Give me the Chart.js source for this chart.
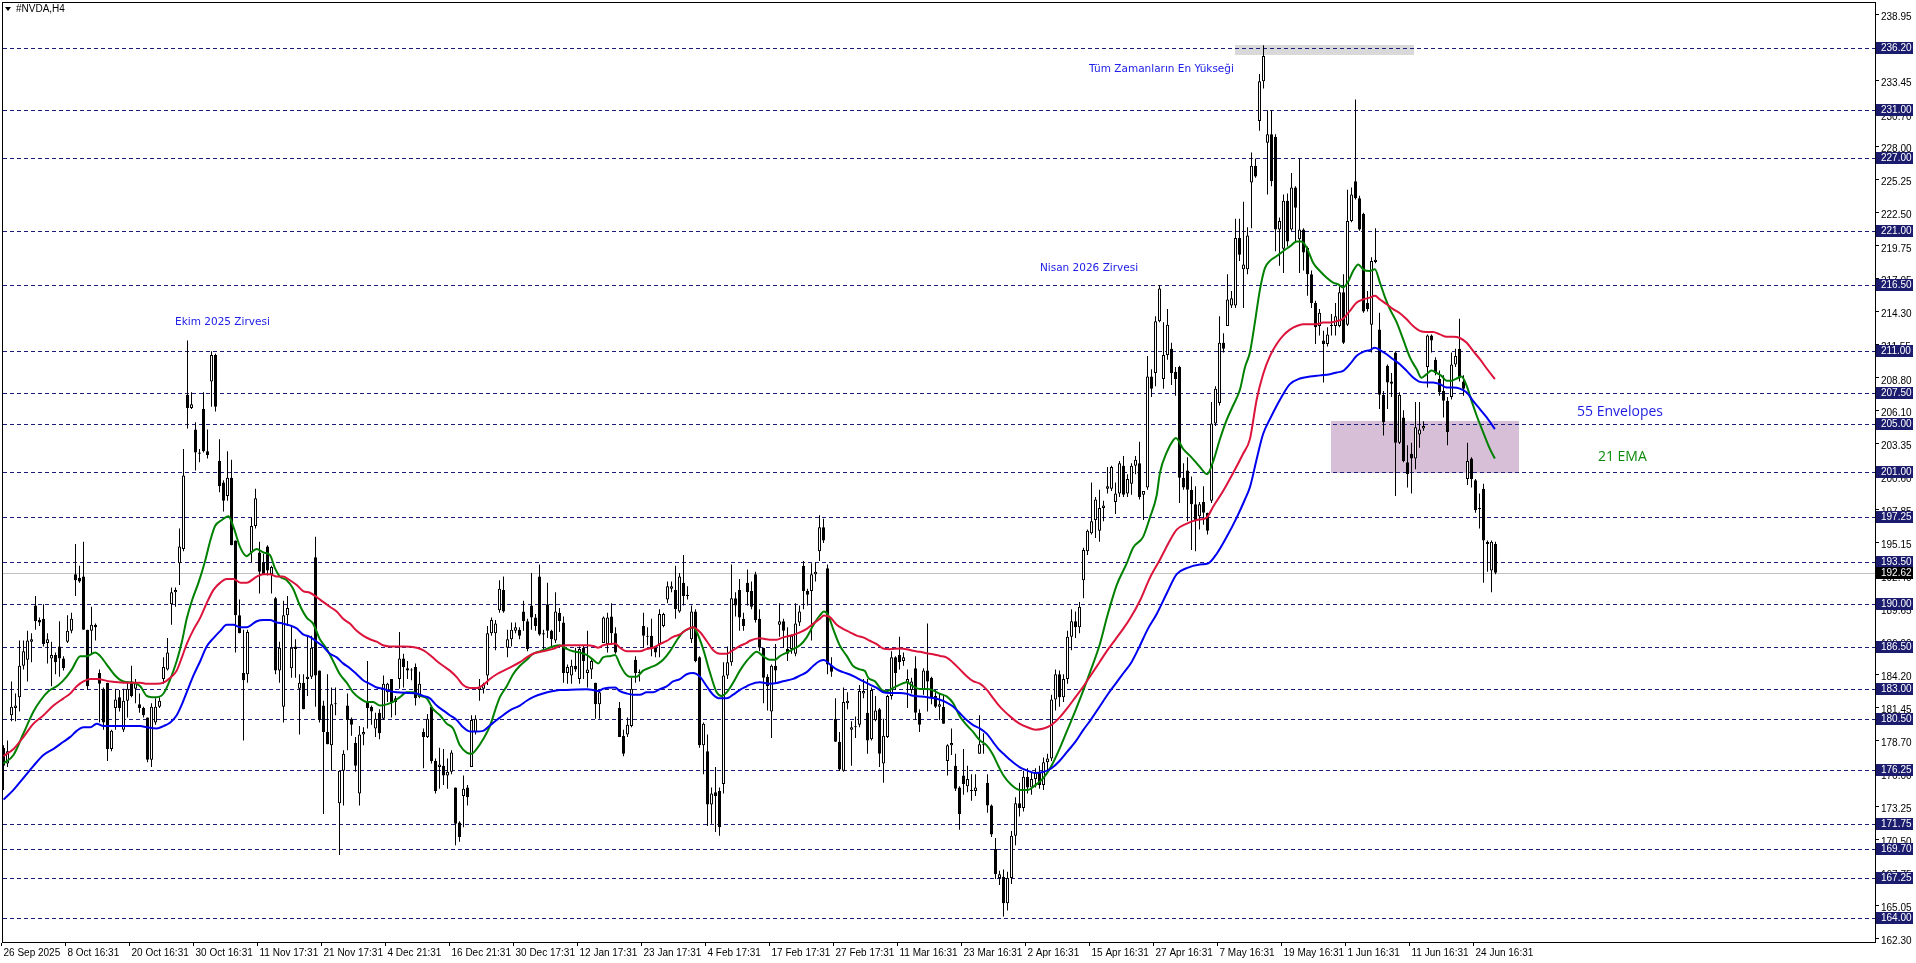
<!DOCTYPE html>
<html><head><meta charset="utf-8">
<script src="https://cdn.jsdelivr.net/npm/chart.js@4.4.1/dist/chart.umd.min.js"></script>
<style>html,body{margin:0;padding:0;background:#fff;overflow:hidden}#wrap{width:1916px;height:963px}</style>
</head><body><div id="wrap"><canvas id="c" width="1916" height="963"></canvas></div>
<script>
// ---- candles (H4 bars, index 0 = 26 Sep 2025) ----
const openP = [
178.1,176.8,180.8,181.4,182.3,184.9,185.4,186.9,189.9,188.7,
188.8,186.8,185.5,185.8,186.5,185.5,186.9,187.8,192.5,192.2,
192.3,187.9,187.8,188.3,184.3,183.0,183.5,178.0,181.4,182.3,
179.6,182.0,183.6,183.0,181.7,181.4,180.6,177.1,180.2,181.5,
183.8,184.6,190.0,191.0,193.4,194.6,207.4,206.3,204.5,202.6,
206.2,202.7,208.5,210.7,201.9,200.1,199.0,200.5,195.3,189.1,
184.3,184.2,194.3,196.5,194.3,193.5,194.8,192.5,190.5,184.5,
181.5,189.1,184.7,186.5,183.0,183.5,183.8,184.0,193.9,184.5,
181.6,179.4,178.3,181.7,173.5,176.2,181.6,180.5,178.5,174.3,
179.2,181.9,181.5,179.7,181.0,180.5,182.7,183.8,182.2,183.8,
185.5,184.7,184.6,184.8,182.3,179.4,179.0,181.5,177.0,176.5,
176.6,175.8,176.1,174.8,171.9,174.1,174.8,176.5,179.4,182.9,
183.0,184.1,187.6,187.6,189.5,191.2,186.4,187.1,187.8,187.9,
189.4,188.6,189.9,188.9,192.3,187.5,190.0,187.8,187.0,189.3,
188.5,184.3,184.1,184.9,183.8,186.4,184.3,184.6,183.5,181.7,
186.8,186.7,189.0,187.6,181.4,179.1,179.2,179.9,185.4,184.3,
188.2,187.3,187.4,186.4,186.7,188.2,190.4,191.3,191.2,189.4,
191.8,190.8,187.1,189.4,185.6,178.3,177.8,173.4,174.4,174.5,
175.1,184.1,185.2,190.5,191.2,188.8,191.8,191.1,192.5,188.8,
186.4,184.0,181.1,184.9,188.3,188.6,186.3,186.3,185.9,188.5,
193.2,191.1,191.1,192.5,194.4,196.4,193.0,184.9,180.5,178.6,
176.2,181.8,179.6,179.8,180.0,182.6,181.0,178.8,180.4,181.3,
176.8,179.0,182.4,185.6,185.8,185.3,183.5,182.9,184.7,181.0,
182.9,184.5,183.9,182.4,181.5,181.5,177.0,178.3,176.6,174.8,
175.8,174.9,174.5,174.5,177.6,178.3,175.2,173.3,169.7,167.3,
167.4,165.2,167.3,170.8,173.5,173.1,175.7,174.8,175.5,176.0,
175.0,176.9,177.2,182.1,184.2,182.3,183.8,187.3,188.6,188.1,
192.0,194.4,195.9,197.0,196.1,198.0,199.6,199.6,198.5,199.2,
201.5,199.2,200.0,201.5,201.7,199.1,199.7,208.9,209.2,213.5,
208.7,210.7,211.2,209.3,209.7,200.5,201.1,199.5,198.3,197.3,
198.5,197.6,198.6,205.0,206.7,211.7,213.1,214.8,214.8,220.4,
217.8,217.8,225.0,226.4,230.1,233.4,228.3,229.0,228.8,221.1,
219.5,223.5,221.1,224.6,220.3,221.1,219.6,217.4,215.0,213.1,
211.9,211.6,213.1,213.1,213.1,215.9,213.2,221.8,225.1,223.7,
222.4,215.0,213.2,218.4,212.8,207.4,209.8,208.5,210.9,203.4,
205.5,201.8,202.5,202.1,204.1,204.6,209.7,212.3,210.3,208.7,
207.7,206.9,207.2,209.9,211.2,208.5,200.4,202.1,200.3,197.9,
199.6,195.2,192.8,195.0];
const highP = [
178.3,178.7,183.6,182.6,187.0,187.0,187.8,187.6,190.7,188.9,
190.0,187.6,186.9,186.0,188.6,185.7,189.1,189.3,195.0,193.2,
195.2,187.9,189.8,188.4,184.6,183.1,183.5,179.6,183.0,182.9,
183.0,183.6,184.9,183.8,182.6,181.5,180.6,181.8,182.2,182.3,
185.6,187.2,191.4,191.4,196.3,202.9,211.9,207.6,205.1,202.9,
207.6,204.5,211.0,210.8,203.7,200.3,202.7,202.0,195.3,190.4,
187.9,187.9,197.2,199.6,195.2,194.2,194.9,193.2,190.6,186.9,
190.3,190.7,188.2,187.1,184.2,184.2,187.4,187.4,195.6,184.5,
182.0,184.2,183.1,183.1,176.2,177.9,182.6,180.6,179.0,179.9,
179.8,185.3,181.6,181.0,181.3,184.1,183.5,183.8,182.4,187.7,
185.9,185.3,184.7,185.1,184.4,179.7,180.9,181.6,177.2,178.1,
178.0,177.2,177.9,174.8,172.0,175.8,175.0,180.8,180.8,183.8,
183.5,188.2,188.9,188.7,192.0,192.3,187.9,188.5,188.5,188.1,
190.3,188.8,192.6,189.2,193.3,187.9,191.8,187.9,191.0,189.7,
189.0,185.0,185.4,186.4,186.5,186.6,187.8,185.5,183.5,182.8,
189.0,189.3,190.1,188.1,181.9,179.6,180.6,183.9,185.7,184.6,
189.3,188.1,188.8,186.5,189.6,189.3,191.9,191.9,193.2,192.6,
194.1,191.5,189.9,189.6,185.7,180.2,179.2,174.8,176.5,174.8,
185.2,186.5,193.3,191.0,192.1,189.3,192.9,191.9,192.7,189.6,
186.4,184.2,185.0,186.7,190.1,188.8,188.1,187.5,190.1,189.9,
193.6,191.3,193.4,193.5,197.4,197.1,193.3,185.6,182.2,179.4,
183.1,182.7,180.3,180.7,183.3,183.8,183.8,183.1,182.4,181.4,
180.5,182.5,186.1,185.7,187.3,186.0,184.6,183.9,185.7,181.3,
184.7,188.4,184.0,182.9,182.6,182.5,178.4,179.7,177.6,174.9,
178.0,176.6,175.9,175.9,180.8,179.3,175.9,173.4,170.6,167.9,
168.0,167.8,171.2,174.0,175.2,176.2,176.4,176.0,176.4,176.6,
177.3,177.6,182.5,184.6,184.5,184.2,187.8,189.6,189.4,190.2,
194.7,196.2,200.1,198.9,199.5,198.6,201.4,201.5,200.1,201.9,
202.3,200.8,201.7,202.3,203.5,199.4,210.6,209.5,213.9,216.5,
213.4,214.5,211.7,209.7,209.8,201.7,202.2,200.6,199.8,198.5,
199.8,197.6,206.8,208.1,213.9,212.5,217.4,216.0,222.0,222.0,
223.4,221.3,227.5,227.0,234.0,236.4,231.0,231.0,229.0,222.1,
224.0,224.1,225.8,224.7,227.0,221.2,219.7,217.7,215.2,214.5,
212.7,213.0,214.1,215.0,216.4,217.4,224.4,224.6,231.9,223.9,
222.5,216.0,218.8,221.2,214.2,207.7,209.9,209.2,211.0,207.6,
206.1,203.2,203.4,206.8,206.8,205.2,212.4,212.4,210.5,209.4,
209.0,207.2,210.9,211.2,213.7,209.0,203.4,202.2,200.4,199.2,
200.0,195.3,195.3,195.2];
const lowP = [
174.6,176.5,180.3,180.3,181.1,184.6,183.6,185.2,187.9,188.2,
186.5,185.1,183.2,184.2,184.0,184.5,186.8,187.6,190.7,191.8,
187.9,182.9,185.8,187.0,180.2,179.6,177.0,177.8,179.6,181.1,
179.4,180.6,182.3,181.8,181.0,180.6,176.9,176.5,180.0,181.4,
183.4,184.5,188.3,189.8,191.6,194.4,204.6,206.2,201.1,201.8,
202.6,202.1,206.4,206.0,199.3,197.7,198.6,194.9,186.0,187.6,
178.7,183.5,193.5,196.3,190.9,192.5,192.4,190.9,184.2,183.5,
180.2,188.2,183.9,183.9,179.2,181.3,182.4,183.8,181.5,180.2,
172.6,178.4,176.2,180.8,169.2,173.3,177.9,179.1,176.1,173.3,
178.3,179.7,180.0,179.0,178.8,180.4,181.9,180.6,180.8,183.0,
183.1,183.8,183.7,181.6,182.2,176.4,178.9,176.8,174.3,174.7,
175.0,174.7,175.9,170.0,170.3,171.5,173.3,176.5,179.2,182.0,
182.6,183.3,187.4,186.2,189.3,189.3,185.6,186.5,187.6,187.1,
187.8,186.1,187.9,187.8,187.4,186.1,187.2,186.5,186.8,187.7,
183.5,183.4,183.4,184.4,183.4,183.8,183.1,183.8,180.5,180.5,
186.8,186.0,186.8,185.9,179.0,177.4,179.0,179.8,183.5,183.6,
186.4,186.6,185.7,185.6,185.6,188.1,190.1,191.0,188.8,189.3,
189.9,190.4,186.8,185.2,178.1,175.9,171.6,171.8,171.1,170.8,
174.3,183.8,184.9,189.0,187.8,187.8,189.9,189.6,188.5,186.1,
181.8,181.2,178.9,183.5,187.3,186.4,185.3,185.9,185.7,188.2,
189.6,189.9,187.0,191.9,193.6,195.1,184.2,184.0,178.6,176.2,
176.1,181.3,176.6,178.9,179.8,182.2,177.6,178.7,180.3,176.5,
175.2,178.9,182.1,182.9,184.6,184.9,181.4,182.6,180.4,179.4,
182.5,181.1,181.7,181.4,180.4,180.1,175.8,177.5,174.5,171.3,
174.2,174.4,173.7,174.1,177.6,177.6,172.7,170.7,167.2,166.7,
164.1,164.6,166.8,170.0,172.4,172.8,174.3,174.2,174.8,174.7,
174.6,176.1,177.0,181.2,181.5,181.9,183.4,186.2,187.2,187.6,
190.5,194.1,195.8,195.5,195.2,196.9,199.2,199.4,197.5,198.9,
198.9,198.9,199.1,200.8,198.7,197.0,199.5,207.2,208.1,213.4,
207.9,210.3,208.2,207.3,198.4,199.5,196.9,194.5,194.4,196.2,
196.6,195.8,198.4,204.8,206.5,210.9,213.1,214.6,214.6,218.5,
214.6,217.4,221.2,225.4,229.3,232.8,224.0,224.7,219.3,218.1,
217.5,219.7,221.0,220.1,217.5,217.7,215.6,214.6,211.6,212.3,
208.4,211.4,212.3,212.3,213.0,211.6,213.1,221.7,223.6,221.0,
214.2,214.3,210.9,218.3,206.2,204.0,206.2,207.2,199.0,203.3,
201.8,199.7,199.2,201.2,203.0,204.4,208.0,210.9,209.0,207.3,
205.5,203.2,207.0,209.7,208.5,207.3,199.9,199.7,197.6,196.3,
191.8,192.7,191.0,192.5];
const closeP = [
176.6,177.8,181.5,181.6,184.9,186.1,187.0,187.1,188.6,188.5,
186.7,187.1,185.8,185.2,185.5,184.7,187.8,188.8,192.0,191.9,
187.9,183.2,188.3,188.1,183.4,180.2,178.0,179.5,182.1,181.4,
182.0,183.0,182.4,183.5,181.4,180.8,177.1,181.5,181.5,182.0,
184.8,186.0,191.0,191.2,194.8,200.7,206.3,206.6,202.6,202.5,
202.7,202.4,210.7,206.4,199.8,198.6,200.5,194.9,189.1,187.6,
183.7,187.7,196.5,198.8,192.7,192.5,192.8,193.1,184.5,186.4,
189.1,189.7,186.4,186.3,183.5,181.3,184.0,186.4,184.1,180.4,
179.4,178.4,181.7,181.8,176.2,177.6,180.4,180.0,176.6,179.2,
179.4,181.4,181.1,180.5,179.3,183.4,183.4,181.9,181.9,185.5,
184.8,184.5,184.5,182.2,183.4,179.0,180.5,177.0,174.5,176.7,
175.8,176.1,177.7,171.8,170.7,174.7,174.0,180.4,180.5,183.1,
183.4,187.6,188.7,188.4,191.3,189.4,187.1,187.9,188.1,187.4,
188.6,186.3,188.9,188.2,187.5,187.6,187.8,187.1,189.4,188.6,
184.3,184.8,184.9,184.6,186.3,185.3,184.6,185.3,181.7,182.7,
188.9,188.9,187.6,186.0,179.0,177.6,180.0,183.0,184.3,184.4,
187.4,187.4,186.4,186.0,189.2,189.2,191.5,191.5,189.6,192.3,
190.7,190.7,189.4,185.3,178.3,180.1,173.4,174.3,174.1,171.5,
184.1,185.2,190.5,189.9,188.9,188.2,191.0,189.8,188.7,186.4,
183.9,183.2,184.9,184.5,188.6,187.8,185.9,187.4,188.4,189.4,
191.1,190.8,192.5,192.7,196.4,195.3,185.0,184.4,178.6,176.3,
181.9,182.0,179.8,179.8,182.8,182.8,178.7,182.9,181.2,177.6,
179.1,182.4,185.6,184.3,185.2,185.6,183.8,183.6,181.0,180.0,
184.5,183.6,182.2,181.5,181.7,180.1,178.3,178.5,174.7,172.6,
175.1,175.5,174.6,174.8,178.4,178.4,173.3,170.9,167.6,167.6,
165.2,167.3,170.8,173.5,173.1,175.7,174.8,175.5,176.0,175.0,
176.9,177.2,182.1,184.2,182.3,183.8,187.3,188.6,188.1,189.8,
194.5,196.1,196.9,198.7,198.0,198.2,199.8,201.4,199.2,201.7,
199.1,200.4,201.5,202.0,198.9,199.4,208.9,207.9,213.5,216.2,
210.7,213.2,209.2,208.7,200.5,199.7,199.5,198.3,196.9,198.3,
197.6,196.1,205.0,207.9,211.7,211.2,215.3,215.4,220.4,219.0,
218.2,220.6,226.4,225.5,233.4,235.5,229.0,225.1,221.1,221.8,
223.5,220.1,224.6,222.9,221.1,219.2,217.4,215.0,213.0,214.2,
211.6,212.4,213.2,213.9,215.9,211.7,221.8,224.0,223.7,221.1,
214.3,214.5,218.5,218.6,207.4,205.1,208.4,208.3,203.4,207.4,
201.9,200.8,202.1,204.7,204.5,204.8,212.3,211.9,209.2,207.6,
206.9,204.3,209.9,210.6,208.8,207.9,201.9,200.4,197.8,198.0,
195.3,195.0,195.2,192.62];

// ---- indicator lines: [bar index, price] ----
const ema21 = [[0,176.8],[2.5,177.5],[5,179.3],[7.5,181.1],[9.2,182.0],[11.3,182.8],[13.75,183.3],[15.8,184.0],[17.1,184.6],[19.2,185.7],[20.8,185.7],[22.9,186.0],[24.2,185.7],[25.8,185.0],[27.9,184.1],[30,183.6],[32.5,183.5],[34.2,183.2],[35.8,182.4],[37.1,182.3],[38.3,182.3],[40,182.6],[41.7,183.8],[43.3,185.3],[44.6,186.9],[45.8,188.8],[47.1,190.3],[48.75,191.8],[50.4,193.6],[51.7,195.3],[52.9,196.5],[54.6,197.0],[56.25,197.3],[57.5,196.4],[59.2,194.7],[60.8,194.0],
[61.6,194.2],[63.3,194.6],[65,194.3],[66.6,194.1],[67.85,193.0],[69.1,192.3],[70.8,192.0],[72.4,191.3],[74.1,189.9],[75.8,188.9],[77.4,188.4],[79.1,187.1],[80.8,186.3],[82.4,185.3],[84.1,184.2],[85.8,183.5],[87.4,182.7],[89.1,182.2],[90.8,181.9],[92.4,181.9],[94.1,181.6],[95.8,181.7],[97.4,181.9],[99.1,182.3],[100.8,182.7],[102.4,182.7],[104.1,182.4],[105.8,182.2],[107.4,181.3],[109.1,180.8],[110.8,180.1],[112.4,179.7],[114.1,178.3],[115.8,177.7],[117,177.6],[118.3,178.0],[119.9,178.8],[121.6,179.9],[123.3,181.6],
[124.1,182.3],[125.8,183.2],[127.4,184.2],[129.1,184.9],[130.8,185.4],[132.4,185.9],[134.1,186.1],[135.8,186.3],[137.4,186.5],[139.1,186.6],[140.8,186.3],[142.4,186.1],[144.1,186.0],[145.8,185.8],[147.4,185.4],[148.7,185.1],[149.9,185.6],[151.6,185.7],[152.9,185.8],[154.1,185.0],[155.35,184.3],[156.6,184.0],[158.3,184.0],[159.9,184.5],[161.6,184.75],[163.3,185.0],[164.9,185.4],[166.6,186.1],[168.3,187.0],[169.9,187.7],[171.6,188.0],[172.4,188.1],[173.3,187.7],[174.9,186.3],[176.6,184.35],[178.3,182.7],[179.5,182.4],[180.8,182.7],[182.4,183.5],[184.1,184.5],[185.8,185.3],
[186.6,185.6],[188.3,186.06],[189.9,185.7],[191.6,185.4],[192.85,185.4],[194.1,185.7],[195.8,186.0],[197.4,186.28],[199.1,186.6],[200.8,187.26],[202.4,188.24],[204.1,189.08],[205.1,189.4],[206.2,189.08],[207.4,187.96],[209.1,186.56],[210.8,185.72],[212.4,184.88],[214.1,184.6],[215.35,184.46],[216.2,183.9],[217.85,183.62],[219.5,182.92],[220.8,182.78],[222.4,183.06],[224.1,183.34],[225.8,183.53],[227.4,183.2],[229.1,182.97],[230.8,182.97],[232.4,182.86],[234.1,182.58],[235.8,182.36],[237.4,181.8],[239.1,180.7],[240.8,179.98],[242.4,179.41],[244.1,178.71],[245.8,178.3],[247.4,177.5],[248.7,176.6],
[250,175.8],[252,175.0],[254,174.6],[256,174.6],[258,175.0],[260,175.6],[262,176.6],[264,178.0],[266,179.6],[268,181.2],[270,182.9],[272,184.7],[274,186.6],[276,189.1],[278.3,191.6],[280.8,193.4],[282.4,194.7],[284.9,195.6],[286.6,197.2],[288.3,199.05],[289.1,200.9],[290.8,202.6],[292.4,203.6],[293.1,203.8],[294.9,202.9],[297,202.2],[299.1,201.4],[300.9,200.8],[302.4,201.85],[304.1,203.7],[305.8,205.3],[307.4,206.5],[309.1,207.8],[310.35,209.65],
[311.6,210.9],[312.85,213.4],[314.1,216.1],[315.35,217.9],[316.6,218.5],[318.3,218.9],[319.9,219.3],[321.6,219.7],[323.3,220.1],[324.5,220.1],[325.8,219.6],[327.4,218.35],[329.1,217.66],[330.8,217.1],[332.4,216.7],[333.7,216.55],[334.9,216.3],[336.2,216.8],[337.4,217.66],[338.7,218.2],[339.9,217.8],[341.6,217.66],[342.85,217.8],[344.1,216.7],[345.35,215.5],[346.6,214.5],[348.3,213.4],[349.9,212.0],[351.6,210.5],[353.3,209.5],[354.5,208.8],[355.8,209.1],[357.0,209.4],[358.3,209.2],[359.5,208.96],[360.8,208.55],[362.0,208.55],[363.3,208.74],[364.5,208.9],[365.8,208.13],[367.0,206.9],[368.3,205.65],[369.9,204.3],[371.6,202.9],[372.85,202.1]];

const envUpper = [[0,177.4],[2.5,178.0],[5,179.0],[7.5,180.1],[10,180.8],[12.5,181.6],[15,182.2],[16.7,182.6],[18.3,183.2],[20,183.6],[21.7,183.8],[23.3,183.8],[26.7,183.6],[30,183.5],[34.2,183.5],[35.8,183.4],[38.3,183.4],[40,183.5],[41.7,183.9],[43.3,184.5],[44.6,185.6],[45.8,186.7],[47.5,187.9],[49.2,188.9],[50.8,190.1],[52.5,191.2],[54.2,191.8],[55.8,192.1],[57.5,192.1],[59.2,191.8],[60.8,191.8],
[63.3,192.3],[65,192.5],[66.6,192.5],[68.3,192.3],[69.9,192.3],[71.6,192.0],[73.3,191.6],[74.9,191.1],[76.6,190.96],[78.3,190.6],[79.9,190.2],[81.6,189.8],[83.3,189.4],[84.9,188.8],[86.6,188.4],[88.3,187.8],[89.9,187.4],[91.6,187.1],[93.3,186.9],[94.9,186.6],[96.6,186.5],[99.9,186.5],[103.3,186.4],[104.9,186.2],[106.6,185.8],[108.3,185.3],[109.9,184.9],[111.6,184.5],[113.3,183.96],[114.9,183.3],[116.6,183.05],[118.3,183.05],[119.9,183.3],[121.6,183.8],[123.3,184.2],
[126.6,184.75],[129.1,185.2],[130.8,185.6],[132.4,185.9],[134.9,186.1],[137.4,186.3],[139.1,186.55],[140.8,186.6],[145.8,186.6],[147.4,186.55],[148.7,186.4],[149.9,186.6],[151.6,186.7],[152.9,186.75],[154.1,186.4],[155.8,186.1],[159.1,186.1],[160.8,186.3],[162.4,186.4],[164.1,186.7],[165.8,186.96],[167.4,187.3],[169.1,187.5],[170.8,187.9],[172.4,188.1],[174.1,187.7],[175.8,186.96],[177.4,186.2],[179.1,185.9],[180.8,185.9],[182.4,186.2],[184.1,186.55],[185.8,186.8],
[186.6,186.98],[189.1,187.18],[191.6,187.06],[193.3,187.06],[194.9,187.26],[197.4,187.46],[199.1,187.68],[200.8,187.96],[202.4,188.38],[204.1,188.8],[205.1,189.08],[206.6,188.94],[208.3,188.3],[209.9,187.96],[211.6,187.68],[213.3,187.4],[214.9,187.26],[216.6,186.98],[218.3,186.7],[219.9,186.34],[221.6,186.28],[224.1,186.34],[225.8,186.28],[227.4,186.14],[229.1,186.06],[230.8,185.94],[232.4,185.86],[234.1,185.72],[235.8,185.58],[237.4,185.16],[239.1,184.6],[240.8,184.04],[242.4,183.62],[244.1,183.42],[245.8,182.92],[247.4,182.22],[248.7,181.66],
[250,181.2],[252,180.6],[254,180.1],[256,179.8],[258,179.6],[260,179.7],[262,180.0],[264,180.6],[266,181.4],[268,182.3],[270,183.2],[272,184.2],[274,185.2],[276,186.2],[278,187.1],[280,188.0],[281.6,188.8],[284.1,190.3],[286.6,192.2],[289.1,193.7],[291.6,195.3],[293.3,196.2],[295.8,196.7],[298.3,197.0],[300.8,197.2],[302.4,198.1],[304.9,199.4],[307.4,200.9],[309.9,202.5],
[311.6,203.71],[313.3,207.0],[314.9,209.1],[316.6,210.6],[318.3,211.6],[319.9,212.3],[321.6,212.8],[323.3,213.1],[324.9,213.24],[328.3,213.24],[329.9,213.38],[331.6,213.38],[333.3,213.5],[334.9,213.7],[336.6,214.35],[338.3,215.04],[339.9,215.3],[341.6,215.45],[342.85,215.6],[344.1,215.3],[345.8,214.9],[347.4,214.5],[349.1,214.15],[350.8,213.65],[352.4,213.1],[354.1,212.69],[355.8,212.6],[357.4,212.6],[359.1,212.4],[360.8,212.2],[362.4,212.2],[364.1,212.1],[365.8,211.7],[367.4,211.03],[369.1,210.34],[370.8,209.57],[372.85,208.68]];

const envLower = [[0,173.8],[2.5,174.6],[5,175.6],[7.5,176.6],[10,177.5],[12.5,178.0],[15,178.6],[16.7,179.0],[18.3,179.5],[20,179.8],[21.7,179.8],[23.3,180.1],[25,179.9],[30,179.9],[34.2,179.9],[35.8,179.8],[38.3,179.7],[40,179.9],[41.7,180.2],[43.3,180.8],[44.6,181.7],[45.8,182.7],[47.5,184.1],[49.2,185.3],[50.8,186.5],[52.5,187.2],[54.2,187.8],[55.8,188.3],[57.5,188.3],[59.2,188.1],[60.8,188.1],
[63.3,188.6],[65,188.7],[66.6,188.7],[68.3,188.5],[69.9,188.4],[71.6,188.25],[73.3,188.0],[74.9,187.5],[76.6,187.3],[78.3,186.9],[79.9,186.5],[81.6,185.9],[83.3,185.6],[84.9,185.1],[86.6,184.7],[88.3,184.2],[89.9,183.7],[91.6,183.4],[93.3,183.1],[94.9,183.0],[96.6,182.8],[98.3,182.7],[103.3,182.6],[104.9,182.4],[106.6,182.2],[108.3,181.6],[109.9,181.2],[111.6,180.8],[113.3,180.4],[114.9,179.8],[116.6,179.45],[118.3,179.45],[119.9,179.5],[121.6,179.95],[123.3,180.4],
[124.1,180.6],[126.6,181.2],[129.1,181.6],[130.8,182.0],[132.4,182.3],[134.9,182.6],[137.4,182.8],[139.1,182.9],[140.8,182.9],[145.8,182.96],[147.4,182.9],[148.7,182.8],[149.9,183.0],[152.9,183.1],[154.1,182.8],[155.8,182.6],[157.4,182.5],[159.1,182.5],[160.8,182.7],[162.4,182.7],[164.1,182.96],[165.8,183.2],[167.4,183.6],[169.1,183.8],[170.8,184.2],[172.4,184.3],[174.1,184.0],[175.8,183.2],[177.4,182.5],[179.1,182.2],[180.8,182.2],[182.4,182.5],[184.1,182.9],[185.8,183.2],
[186.6,183.34],[189.1,183.53],[191.6,183.42],[193.3,183.48],[194.9,183.62],[197.4,183.81],[199.1,184.09],[200.8,184.37],[202.4,184.88],[204.1,185.3],[205.1,185.38],[206.6,185.02],[208.3,184.6],[209.9,184.37],[211.6,184.18],[213.3,183.9],[214.9,183.62],[216.6,183.34],[218.3,183.06],[219.9,182.7],[221.6,182.64],[224.1,182.64],[225.8,182.58],[227.4,182.41],[229.1,182.36],[230.8,182.3],[232.4,182.22],[234.1,182.08],[235.8,181.85],[237.4,181.52],[239.1,180.96],[240.8,180.4],[242.4,179.98],[244.1,179.7],[245.8,179.27],[247.4,178.57],[248.7,178.01],
[250,177.6],[252,177.0],[254,176.5],[256,176.2],[258,176.0],[260,176.1],[262,176.4],[264,177.0],[266,177.8],[268,178.6],[270,179.6],[272,180.5],[274,181.5],[276,182.5],[278,183.4],[280,184.3],[282,185.2],[284,186.5],[286,187.9],[288.3,189.2],[290.8,190.9],[293.3,192.5],[295.8,193.0],[299.1,193.3],[301.2,193.4],[303.3,194.2],[305.8,195.6],[308.3,197.2],[310.35,198.7],
[311.6,199.71],[313.3,202.06],[314.9,204.13],[316.6,205.37],[318.3,206.48],[319.9,207.44],[321.6,208.27],[324.1,208.74],[326.6,208.9],[329.1,209.0],[331.6,209.1],[333.3,209.24],[334.9,209.37],[336.6,209.93],[338.3,210.62],[339.9,210.95],[341.6,211.1],[342.85,211.3],[344.1,211.1],[345.8,210.75],[347.4,210.34],[349.1,209.93],[350.8,209.37],[352.4,208.82],[354.1,208.46],[355.8,208.41],[357.4,208.41],[359.1,208.27],[360.8,207.99],[362.4,207.99],[364.1,207.9],[365.8,207.58],[367.4,206.89],[369.1,206.2],[370.8,205.51],[372.85,204.54]];

// ---- axes / levels ----
const dateIdx = [0,16,32,48,64,80,96,112,128,144,160,176,192,208,224,240,256,272,288,304,320,336,352,368];
const dateLabels = ['26 Sep 2025','8 Oct 16:31','20 Oct 16:31','30 Oct 16:31','11 Nov 17:31','21 Nov 17:31','4 Dec 21:31','16 Dec 21:31','30 Dec 17:31','12 Jan 17:31','23 Jan 17:31','4 Feb 17:31','17 Feb 17:31','27 Feb 17:31','11 Mar 16:31','23 Mar 16:31','2 Apr 16:31','15 Apr 16:31','27 Apr 16:31','7 May 16:31','19 May 16:31','1 Jun 16:31','11 Jun 16:31','24 Jun 16:31'];
const priceTicks = [238.95,236.20,233.45,230.70,228.00,225.25,222.50,219.75,217.05,214.30,211.55,208.80,206.10,203.35,200.60,197.85,195.15,192.40,189.65,186.90,184.20,181.45,178.70,176.00,173.25,170.50,167.75,165.05,162.30];
const levels = [236.20,231.00,227.00,221.00,216.50,211.00,207.50,205.00,201.00,197.25,193.50,190.00,186.50,183.00,180.50,176.25,171.75,169.70,167.25,164.00];
const lastPrice = 192.62;
const zoneX = [331.9, 378.9], zoneY = [200.9, 205.2];
const athX = [307.9, 352.6], athY = [235.6, 236.45];
const notes = [
 {t:'Ekim 2025 Zirvesi', x:42.9, y:213.4, c:'#2020e8', f:'10.5px "DejaVu Sans"'},
 {t:'Nisan 2026 Zirvesi', x:259.1, y:217.85, c:'#2020e8', f:'10.5px "DejaVu Sans"'},
 {t:'Tüm Zamanların En Yükseği', x:271.4, y:234.4, c:'#2020e8', f:'10.5px "DejaVu Sans"'},
 {t:'55 Envelopes', x:393.4, y:205.95, c:'#1c1ce0', f:'14px "Open Sans"'},
 {t:'21 EMA', x:398.6, y:202.2, c:'#0a8a0a', f:'14px "Open Sans"'}
];

const N = closeP.length;
if (openP.length!==N || highP.length!==N || lowP.length!==N) throw new Error('length mismatch '+[openP.length,highP.length,lowP.length,N]);

const wickData = [], bodyData = [], bodyFill = [];
for (let i = 0; i < N; i++) {
  wickData.push({x: i, y: [lowP[i], highP[i]]});
  bodyData.push({x: i, y: [openP[i], closeP[i]]});
  bodyFill.push(closeP[i] >= openP[i] ? '#ffffff' : '#000000');
}
const pts = a => a.map(p => ({x: p[0], y: p[1]}));

const overlay = {
  id: 'overlay',
  beforeDatasetsDraw(chart) {
    const {ctx, chartArea: a, scales: {x, y}} = chart;
    ctx.save();
    ctx.beginPath(); ctx.rect(a.left, a.top, a.right - a.left, a.bottom - a.top); ctx.clip();
    ctx.fillStyle = '#d8bfd8';
    let x1 = Math.round(x.getPixelForValue(zoneX[0])), x2 = Math.round(x.getPixelForValue(zoneX[1]));
    let y1 = Math.round(y.getPixelForValue(zoneY[1])), y2 = Math.round(y.getPixelForValue(zoneY[0]));
    ctx.fillRect(x1, y1, x2 - x1, y2 - y1);
    ctx.fillStyle = '#d9d9d9';
    x1 = Math.round(x.getPixelForValue(athX[0])); x2 = Math.round(x.getPixelForValue(athX[1]));
    y1 = Math.round(y.getPixelForValue(athY[1])); y2 = Math.round(y.getPixelForValue(athY[0]));
    ctx.fillRect(x1, y1, x2 - x1, y2 - y1);
    ctx.strokeStyle = '#c0c0c0'; ctx.lineWidth = 1;
    let yy = Math.round(y.getPixelForValue(lastPrice)) + 0.5;
    ctx.beginPath(); ctx.moveTo(a.left, yy); ctx.lineTo(a.right, yy); ctx.stroke();
    ctx.strokeStyle = '#1c1c78'; ctx.setLineDash([4, 3]);
    levels.forEach(v => {
      const p = Math.round(y.getPixelForValue(v)) + 0.5;
      ctx.beginPath(); ctx.moveTo(a.left, p); ctx.lineTo(a.right, p); ctx.stroke();
    });
    ctx.restore();
  },
  afterDraw(chart) {
    const {ctx, chartArea: a, scales: {x, y}} = chart;
    ctx.save();
    ctx.strokeStyle = '#000'; ctx.lineWidth = 1;
    ctx.strokeRect(a.left - 0.5, a.top - 0.5, a.right - a.left + 1, a.bottom - a.top + 1);
    ctx.font = '10px "Liberation Sans"'; ctx.textBaseline = 'middle'; ctx.textAlign = 'left';
    const box = (v, bg) => {
      const p = Math.round(y.getPixelForValue(v));
      ctx.fillStyle = bg; ctx.fillRect(a.right + 1, p - 6, 37, 12);
      ctx.fillStyle = '#fff'; ctx.fillText(v.toFixed(2), a.right + 6, p + 0.5);
    };
    levels.forEach(v => box(v, '#1c1c6e'));
    box(lastPrice, '#000');
    notes.forEach(n => {
      ctx.font = n.f; ctx.fillStyle = n.c; ctx.textAlign = 'left'; ctx.textBaseline = 'middle';
      ctx.fillText(n.t, x.getPixelForValue(n.x), y.getPixelForValue(n.y));
    });
    ctx.fillStyle = '#000';
    ctx.beginPath(); ctx.moveTo(5, 7); ctx.lineTo(11, 7); ctx.lineTo(8, 11); ctx.closePath(); ctx.fill();
    ctx.font = '10px "Liberation Sans"'; ctx.textBaseline = 'middle'; ctx.textAlign = 'left';
    ctx.fillText('#NVDA,H4', 16, 9.5);
    ctx.restore();
  }
};

const lineDs = (data, color) => ({type: 'line', data: pts(data), borderColor: color, borderWidth: 2, pointRadius: 0, fill: false, cubicInterpolationMode: 'monotone', order: 0});

new Chart(document.getElementById('c').getContext('2d'), {
  type: 'bar',
  data: {datasets: [
    lineDs(envUpper, '#dc143c'),
    lineDs(envLower, '#0000f0'),
    lineDs(ema21, '#008000'),
    {type: 'bar', data: wickData, backgroundColor: '#000', borderWidth: 0, barThickness: 1, grouped: false, inflateAmount: 0, minBarLength: 1, order: 2},
    {type: 'bar', data: bodyData, backgroundColor: bodyFill, borderColor: '#000', borderWidth: 1, borderSkipped: false, barThickness: 3, grouped: false, inflateAmount: 0, minBarLength: 1, order: 1}
  ]},
  options: {
    responsive: false, animation: false, events: [],
    layout: {padding: {left: 3, top: 3, right: 0, bottom: 0}},
    plugins: {legend: {display: false}, tooltip: {enabled: false}},
    scales: {
      x: {type: 'linear', min: -0.125, max: 467.875, offset: false, position: 'bottom',
        grid: {display: true, drawOnChartArea: false, drawTicks: true, tickLength: 4, color: '#000', offset: false},
        border: {display: true, color: '#000'},
        ticks: {autoSkip: false, maxRotation: 0, minRotation: 0, align: 'start', labelOffset: 2, padding: 1, color: '#000', font: {family: 'Liberation Sans', size: 10}, callback: (v, i) => dateLabels[i]},
        afterBuildTicks: s => { s.ticks = dateIdx.map(v => ({value: v - 0.5})); },
        afterFit: s => { s.height = 21; s.paddingLeft = 0; s.paddingRight = 0; }
      },
      y: {type: 'linear', position: 'right', min: 161.98, max: 239.90,
        grid: {display: true, drawOnChartArea: false, drawTicks: true, tickLength: 4, color: '#000'},
        border: {display: true, color: '#000'},
        ticks: {color: '#000', padding: 2, labelOffset: 3, font: {family: 'Liberation Sans', size: 10}, callback: v => Number(v).toFixed(2)},
        afterBuildTicks: s => { s.ticks = priceTicks.map(v => ({value: v})); },
        afterFit: s => { s.width = 41; s.paddingTop = 0; s.paddingBottom = 0; }
      }
    }
  },
  plugins: [overlay]
});
</script></body></html>
